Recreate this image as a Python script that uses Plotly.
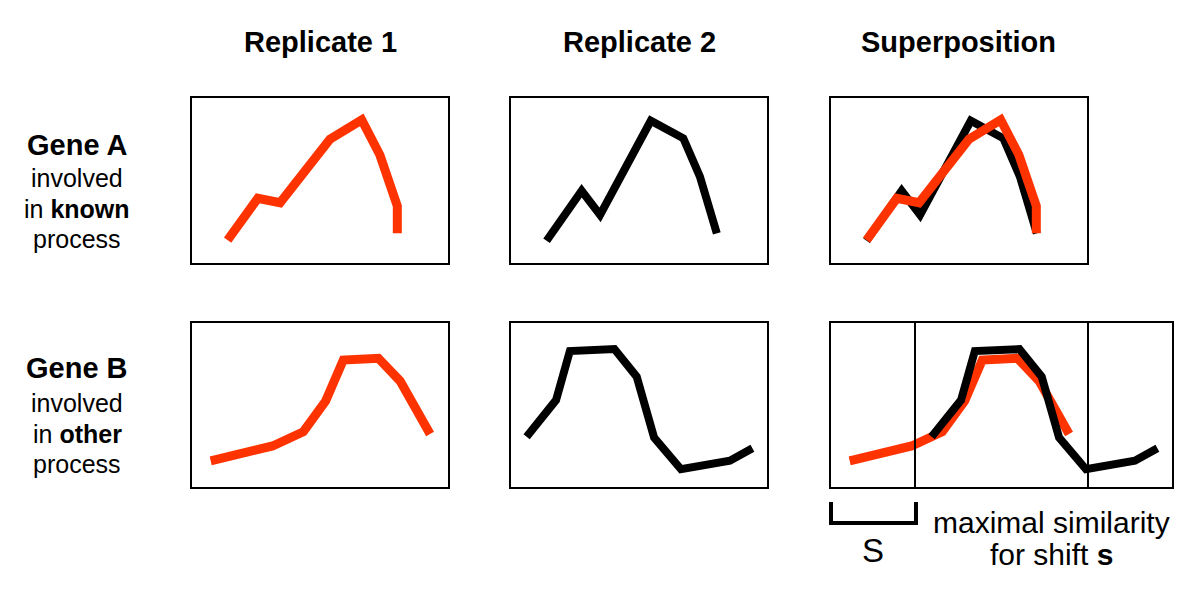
import plotly.graph_objects as go

# time points / expression values, both on a 0-100 scale of each panel
a_rep1_t = [13.9, 25.7, 34.4, 53.9, 66.3, 73.4, 80.2, 80.2]
a_rep1_y = [13.9, 39.2, 36.5, 75.0, 86.7, 65.5, 34.5, 18.0]
a_rep2_t = [13.9, 27.6, 34.8, 54.6, 67.3, 73.8, 80.4]
a_rep2_y = [13.5, 43.8, 29.1, 86.2, 75.6, 52.3, 18.0]

b_rep1_t = [7.3, 31.5, 43.5, 52.2, 59.1, 72.8, 81.3, 93.0]
b_rep1_y = [16.0, 25.0, 33.7, 52.4, 77.4, 78.5, 64.6, 32.3]
b_rep2_t = [6.1, 17.6, 23.0, 40.4, 49.1, 55.9, 66.4, 85.5, 94.3]
b_rep2_y = [30.7, 53.0, 82.9, 84.1, 67.3, 30.1, 10.8, 16.0, 23.6]

shift_s = 33.2  # shift of replicate 2 for gene B, in time units

col_titles = ["Replicate 1", "Replicate 2", "Superposition"]

RED = "#ff3300"
BLACK = "#000000"
FONT = "Liberation Sans, Arial, Helvetica, sans-serif"
PAGE_MARGIN = 8  # default body margin of the html page
W, H = 1200 - PAGE_MARGIN, 597 - PAGE_MARGIN
PANEL_LEFT = [192, 511, 831]
PANEL_W = 256
ROW_A = (98, 263)
ROW_B = (323, 487)


# positions below are in screen pixels; convert to paper fractions
def px_x(v):
    return (v - PAGE_MARGIN) / W


def px_y(v):
    return 1 - (v - PAGE_MARGIN) / H


def dom_x(left, width=PANEL_W):
    return [px_x(left), px_x(left + width)]


def dom_y(row):
    return [px_y(row[1]), px_y(row[0])]


shift_px = shift_s / 100 * PANEL_W

# (x domain, y domain) for every axis pair
axes = [
    (dom_x(PANEL_LEFT[0]), dom_y(ROW_A)),
    (dom_x(PANEL_LEFT[1]), dom_y(ROW_A)),
    (dom_x(PANEL_LEFT[2]), dom_y(ROW_A)),
    (dom_x(PANEL_LEFT[0]), dom_y(ROW_B)),
    (dom_x(PANEL_LEFT[1]), dom_y(ROW_B)),
    (dom_x(PANEL_LEFT[2]), dom_y(ROW_B)),
    (dom_x(PANEL_LEFT[2] + shift_px), dom_y(ROW_B)),
]

fig = go.Figure()


def add_line(t, y, color, n, width=8):
    suffix = "" if n == 1 else str(n)
    fig.add_trace(go.Scatter(
        x=t, y=y, mode="lines", xaxis="x" + suffix, yaxis="y" + suffix,
        line=dict(color=color, width=width), hoverinfo="skip", showlegend=False,
    ))


add_line(a_rep1_t, a_rep1_y, RED, 1, 9)
add_line(a_rep2_t, a_rep2_y, BLACK, 2)
add_line(a_rep2_t, a_rep2_y, BLACK, 3)
add_line(a_rep1_t, a_rep1_y, RED, 3, 9)
add_line(b_rep1_t, b_rep1_y, RED, 4, 9)
add_line(b_rep2_t, b_rep2_y, BLACK, 5)
add_line(b_rep1_t, b_rep1_y, RED, 6, 9)
add_line(b_rep2_t, b_rep2_y, BLACK, 7)

layout = dict(
    width=W, height=H, margin=dict(l=0, r=0, t=0, b=0),
    paper_bgcolor="white", plot_bgcolor="rgba(0,0,0,0)",
    showlegend=False,
)
for i, (dx, dy) in enumerate(axes, start=1):
    suffix = "" if i == 1 else str(i)
    common = dict(showline=True, mirror=True, linecolor="black", linewidth=2,
                  showgrid=False, zeroline=False, showticklabels=False,
                  ticks="", range=[0, 100], fixedrange=True)
    layout["xaxis" + suffix] = dict(domain=dx, anchor="y" + suffix, **common)
    layout["yaxis" + suffix] = dict(domain=dy, anchor="x" + suffix, **common)
fig.update_layout(**layout)

annotations = []


def text(s, x, y, size, anchor="center"):
    annotations.append(dict(
        text=s, x=px_x(x), y=px_y(y), xref="paper", yref="paper",
        xanchor=anchor, yanchor="middle", showarrow=False,
        font=dict(family=FONT, size=size, color="black"),
    ))


for left, title in zip(PANEL_LEFT, col_titles):
    text("<b>" + title + "</b>", left + PANEL_W / 2, 42, 29)

text("<b>Gene A</b>", 77, 145, 29)
text("involved", 77, 178, 25)
text("in <b>known</b>", 77, 209, 25)
text("process", 77, 239, 25)
text("<b>Gene B</b>", 77, 368, 29)
text("involved", 77, 403, 25)
text("in <b>other</b>", 77, 434, 25)
text("process", 77, 464, 25)

text("S", PANEL_LEFT[2] + shift_px / 2, 550, 33)
text("maximal similarity", 1051, 522, 30)
text("for shift <b>s</b>", 1051, 554, 30)

fig.update_layout(annotations=annotations)

# bracket marking the shift s
x0 = px_x(PANEL_LEFT[2])
x1 = px_x(PANEL_LEFT[2] + shift_px)
yt, yb = px_y(502), px_y(523)
fig.add_shape(type="path", xref="paper", yref="paper",
              path=f"M {x0} {yt} L {x0} {yb} L {x1} {yb} L {x1} {yt}",
              line=dict(color="black", width=4))

fig.write_html("out.html")
